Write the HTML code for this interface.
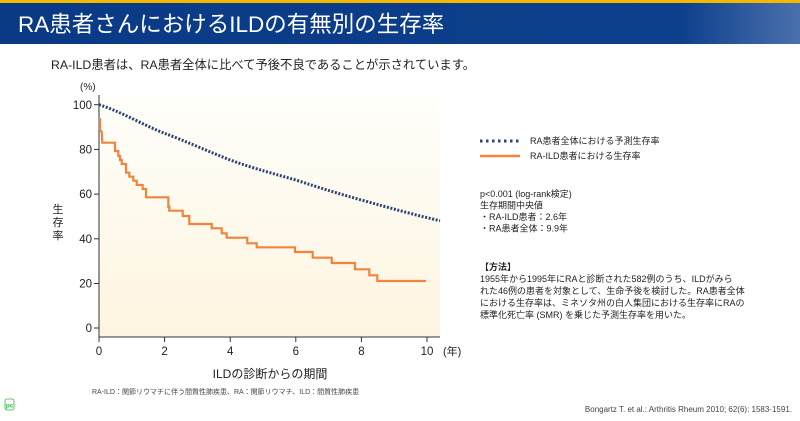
<!DOCTYPE html>
<html><head><meta charset="utf-8"><style>
body{margin:0;width:800px;height:416px;overflow:hidden;background:#fff;font-family:"Liberation Sans","Noto Sans CJK JP",sans-serif;}
</style></head><body>
<svg width="800" height="416" viewBox="0 0 800 416" xmlns="http://www.w3.org/2000/svg" font-family="Liberation Sans, Noto Sans CJK JP, sans-serif">
<defs>
<linearGradient id="hd" x1="0" x2="1" y1="0" y2="0"><stop offset="0" stop-color="#0a3a86"/><stop offset="0.85" stop-color="#0d3f8c"/><stop offset="1" stop-color="#4a70ac"/></linearGradient>
<linearGradient id="bg" x1="0" x2="0" y1="0" y2="1"><stop offset="0" stop-color="#fffefa"/><stop offset="1" stop-color="#fdf5e1"/></linearGradient>
</defs>
<rect x="0" y="0" width="800" height="3" fill="#f5b800"/>
<rect x="0" y="3" width="800" height="41" fill="url(#hd)"/>
<text x="18" y="32" font-size="22.5" fill="#fff">RA患者さんにおけるILDの有無別の生存率</text>
<text x="51" y="69" font-size="12.3" fill="#222">RA-ILD患者は、RA患者全体に比べて予後不良であることが示されています。</text>
<text x="80" y="90" font-size="10" fill="#222">(%)</text>
<rect x="99" y="95" width="341" height="242" fill="url(#bg)"/>
<line x1="99" y1="95" x2="99" y2="337" stroke="#333" stroke-width="1"/>
<line x1="99" y1="337" x2="440" y2="337" stroke="#333" stroke-width="1"/>
<g stroke="#333" stroke-width="1">
<line x1="94" y1="104.7" x2="99" y2="104.7"/><line x1="94" y1="149.4" x2="99" y2="149.4"/><line x1="94" y1="194.1" x2="99" y2="194.1"/><line x1="94" y1="238.8" x2="99" y2="238.8"/><line x1="94" y1="283.5" x2="99" y2="283.5"/><line x1="94" y1="328" x2="99" y2="328"/>
<line x1="99" y1="337" x2="99" y2="342"/><line x1="164.6" y1="337" x2="164.6" y2="342"/><line x1="230.2" y1="337" x2="230.2" y2="342"/><line x1="295.8" y1="337" x2="295.8" y2="342"/><line x1="361.4" y1="337" x2="361.4" y2="342"/><line x1="427" y1="337" x2="427" y2="342"/>
</g>
<g font-size="11.5" fill="#222" text-anchor="end">
<text x="92" y="109">100</text><text x="92" y="153.5">80</text><text x="92" y="198">60</text><text x="92" y="243">40</text><text x="92" y="287.5">20</text><text x="92" y="332">0</text>
</g>
<g font-size="11.5" fill="#222" text-anchor="middle">
<text x="99" y="355">0</text><text x="164.6" y="355">2</text><text x="230.2" y="355">4</text><text x="295.8" y="355">6</text><text x="361.4" y="355">8</text><text x="427" y="355">10</text>
</g>
<text x="443" y="355" font-size="11" fill="#222">(年)</text>
<text x="270" y="378" font-size="12" fill="#222" text-anchor="middle">ILDの診断からの期間</text>
<g font-size="11" fill="#222" text-anchor="middle"><text x="58" y="213">生</text><text x="58" y="226">存</text><text x="58" y="239">率</text></g>
<path d="M99,104.7 C120,111 145,126 164.6,133.3 C185,141 210,152 230.2,160 C255,169 275,174 295.8,180 C320,188 340,194 361.4,200 C390,208 415,215 440,220.7" fill="none" stroke="#2d4373" stroke-width="3" stroke-dasharray="2 1.6"/>
<polyline fill="none" stroke="#f0843c" stroke-width="2.2" points="100,118.3 100,130 101.7,131.7 102.3,142.7 115,142.7 115,151 118.3,151 118.3,156 120,156 120,160 121.7,160 121.7,164 126,164 126,172.7 129.3,172.7 129.3,176.7 133.3,176.7 133.3,180.7 136.7,180.7 136.7,185 142.7,185 142.7,189 146,189 146,197.3 168.3,197.3 168.3,206.7 169.3,206.7 169.3,210.7 182.7,210.7 182.7,216 189.3,216 189.3,224 211.7,224 211.7,228.3 221.7,228.3 221.7,233.3 226.7,233.3 226.7,237.7 247.3,237.7 247.3,243.3 256.7,243.3 256.7,247.3 295,247.3 295,252 312.7,252 312.7,257.7 331.7,257.7 331.7,263 355,263 355,269.3 369.3,269.3 369.3,275.3 377.3,275.3 377.3,281 426,281"/>
<line x1="480" y1="141" x2="520" y2="141" stroke="#2d4373" stroke-width="3" stroke-dasharray="2.5 3.5"/>
<line x1="480" y1="156" x2="520" y2="156" stroke="#f0843c" stroke-width="2.5"/>
<g font-size="9" fill="#222">
<text x="530" y="144">RA患者全体における予測生存率</text>
<text x="530" y="159">RA-ILD患者における生存率</text>
<text x="480" y="197">p&lt;0.001 (log-rank検定)</text>
<text x="480" y="208.5">生存期間中央値</text>
<text x="480" y="220">・RA-ILD患者：2.6年</text>
<text x="480" y="231.5">・RA患者全体：9.9年</text>
<text x="480" y="270" font-weight="bold">【方法】</text>
<text x="480" y="282">1955年から1995年にRAと診断された582例のうち、ILDがみら</text>
<text x="480" y="294">れた46例の患者を対象として、生命予後を検討した。RA患者全体</text>
<text x="480" y="306">における生存率は、ミネソタ州の白人集団における生存率にRAの</text>
<text x="480" y="318">標準化死亡率 (SMR) を乗じた予測生存率を用いた。</text>
</g>
<text x="92" y="394" font-size="7" fill="#444">RA-ILD：関節リウマチに伴う間質性肺疾患、RA：関節リウマチ、ILD：間質性肺疾患</text>
<text x="792" y="412" font-size="8" fill="#444" text-anchor="end">Bongartz T. et al.: Arthritis Rheum 2010; 62(6): 1583-1591.</text>
<rect x="5" y="399" width="9" height="11" rx="2" fill="#fff" stroke="#39b54a" stroke-width="0.8"/>
<text x="5.8" y="407.5" font-size="6.5" fill="#39b54a" font-weight="bold">pc</text>
</svg>
</body></html>
